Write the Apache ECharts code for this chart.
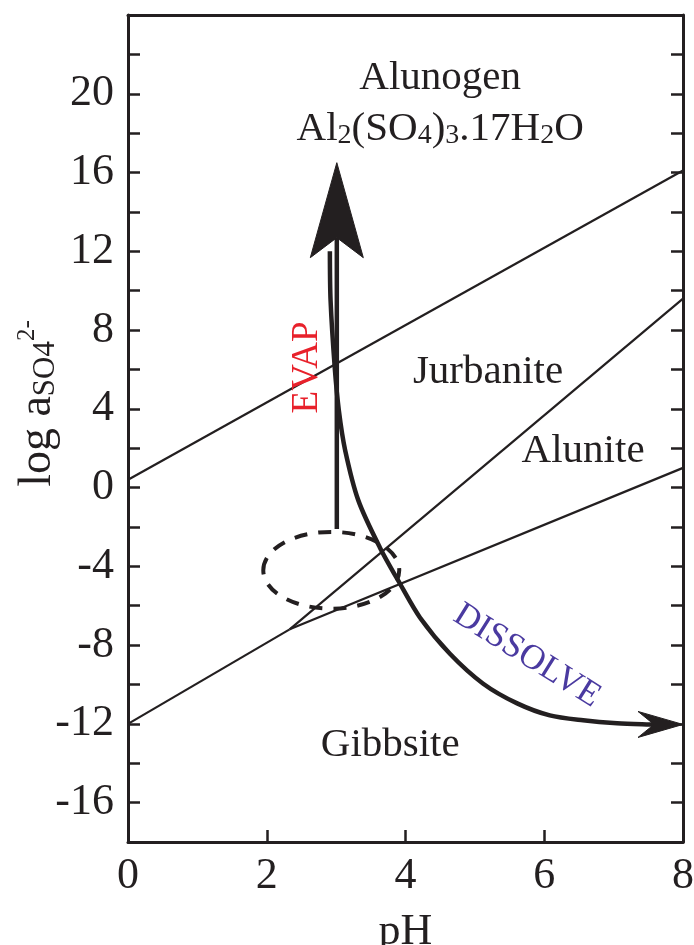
<!DOCTYPE html>
<html><head><meta charset="utf-8">
<script src="https://cdn.jsdelivr.net/npm/echarts@6/dist/echarts.min.js"></script>
<style>html,body{margin:0;padding:0;background:#fff}#c{width:694px;height:945px}</style>
</head><body><div id="c"></div>
<script>
const FONT = '"Liberation Serif", "Times New Roman", serif';
const INK = '#231f20';

// ---- data (pH, log a SO4 2-) ----
const xTickLabels = [0, 2, 4, 6, 8];
const yTickLabels = [-16, -12, -8, -4, 0, 4, 8, 12, 16, 20];

// stability-field boundaries
const alunogenJurbanite = [[0, 0.4], [8, 16.1]];
const jurbaniteGibbsite = [[0, -12], [2.33, -7.2]];
const jurbaniteAlunite = [[2.33, -7.2], [8, 9.6]];
const aluniteGibbsite = [[2.33, -7.2], [8, 1.0]];

// evaporation pathway (shaft to arrow tip)
const evapPath = [[3.01, -2.1], [3.01, 16.5]];
// dissolution pathway
const dissolvePath = [[2.91, 12.0], [2.92, 9.5], [2.98, 6.1], [3.04, 3.9], [3.13, 1.9], [3.32, -0.65],
  [3.63, -3.04], [3.92, -4.88], [4.21, -6.61], [4.64, -8.44], [5.12, -9.96], [5.61, -10.96],
  [6.08, -11.57], [6.56, -11.82], [7.05, -11.97], [7.52, -12.03], [8.0, -12.03]];

// dashed field of observed waters: centre and semi-axes
const fieldCentre = [2.93, -4.2];
const fieldRadii = [0.98, 1.95];

// region / process labels
const labelNames = ['Alunogen', 'formula', 'Jurbanite', 'Alunite', 'Gibbsite', 'EVAP', 'DISSOLVE'];
const labelPos = [[4.5, 20.8], [4.5, 18.2], [5.19, 5.87], [6.56, 1.85], [3.78, -13.1], [2.58, 6.1], [5.75, -8.55]];

// ---- chart ----
const lineSeries = (name, pts) => ({
  type: 'line', name, data: pts, symbol: 'none', silent: true, animation: false,
  lineStyle: { color: INK, width: 2.2 }, z: 2
});

function arrowSeries(name, path, width, head, smooth) {
  return {
    type: 'custom', name, silent: true, animation: false, z: 4,
    data: [path[0]],
    renderItem(params, api) {
      const pts = path.map(p => api.coord(p));
      const n = pts.length;
      const tip = pts[n - 1], prev = pts[n - 2];
      const ang = Math.atan2(tip[1] - prev[1], tip[0] - prev[0]);
      const ux = Math.cos(ang), uy = Math.sin(ang), px = -uy, py = ux;
      const base = [tip[0] - ux * head.len, tip[1] - uy * head.len];
      const W = head.width / 2;
      const left = [base[0] + px * W, base[1] + py * W];
      const right = [base[0] - px * W, base[1] - py * W];
      const nt = [tip[0] - ux * head.notch, tip[1] - uy * head.notch];
      const linePts = pts.slice(0, n - 1).concat([nt]);
      return {
        type: 'group', children: [
          { type: 'polyline', shape: { points: linePts, smooth: smooth }, style: { stroke: INK, lineWidth: width, fill: null } },
          { type: 'polygon', shape: { points: [tip, left, nt, right] }, style: { fill: INK, stroke: INK, lineWidth: 1 } }
        ]
      };
    }
  };
}

const richMain = (size) => ({
  m: { fontFamily: FONT, fontSize: size, color: INK },
  s: { fontFamily: FONT, fontSize: Math.round(size * 0.68), color: INK, verticalAlign: 'bottom' },
  p: { fontFamily: FONT, fontSize: Math.round(size * 0.55), color: INK, verticalAlign: 'top' }
});

const labelTexts = {
  Alunogen: '{m|Alunogen}',
  formula: '{m|Al}{s|2}{m|(SO}{s|4}{m|)}{s|3}{m|.17H}{s|2}{m|O}',
  Jurbanite: '{m|Jurbanite}',
  Alunite: '{m|Alunite}',
  Gibbsite: '{m|Gibbsite}',
  EVAP: 'EVAP',
  DISSOLVE: 'DISSOLVE'
};
const labelData = labelNames.map((nm, i) => {
  const item = { name: nm, value: labelPos[i] };
  if (nm === 'EVAP') item.label = { rotate: 90, color: '#e8212b', fontSize: 37 };
  if (nm === 'DISSOLVE') item.label = { rotate: -32, color: '#4a3aa0', fontSize: 35 };
  return item;
});

const option = {
  backgroundColor: '#fff',
  animation: false,
  grid: { left: 128, right: 11, top: 15, bottom: 103, containLabel: false, outerBoundsMode: 'none' },
  xAxis: [{
    type: 'value', min: 0, max: 8, interval: 2, position: 'bottom',
    axisLine: { show: true, onZero: false, lineStyle: { color: INK, width: 3 } },
    axisTick: { show: true, inside: true, length: 12, lineStyle: { color: INK, width: 2.5 } },
    axisLabel: { fontFamily: FONT, fontSize: 44, color: INK, margin: 12,
      formatter: v => xTickLabels.includes(v) ? String(v) : '' },
    splitLine: { show: false },
    name: 'pH', nameLocation: 'middle', nameGap: 68, nameMoveOverlap: false,
    nameTextStyle: { fontFamily: FONT, fontSize: 44, color: INK }
  }, {
    type: 'value', min: 0, max: 8, position: 'top',
    axisLine: { show: true, onZero: false, lineStyle: { color: INK, width: 3 } },
    axisTick: { show: false }, axisLabel: { show: false }, splitLine: { show: false }
  }],
  yAxis: [{
    type: 'value', min: -18, max: 24, interval: 2, position: 'left',
    axisLine: { show: true, onZero: false, lineStyle: { color: INK, width: 3 } },
    axisTick: { show: true, inside: true, length: 12, lineStyle: { color: INK, width: 2.5 } },
    axisLabel: { fontFamily: FONT, fontSize: 44, color: INK, margin: 14,
      formatter: v => yTickLabels.includes(v) ? String(v) : '' },
    splitLine: { show: false },
    name: '{m|log a}{s|SO4}{p|2-}', nameLocation: 'middle', nameGap: 67, nameRotate: 90,
    nameMoveOverlap: false,
    nameTextStyle: { rich: richMain(46), padding: [0, 0, 0, 50] }
  }, {
    type: 'value', min: -18, max: 24, interval: 2, position: 'right',
    axisLine: { show: true, onZero: false, lineStyle: { color: INK, width: 3 } },
    axisTick: { show: true, inside: true, length: 12, lineStyle: { color: INK, width: 2.5 } },
    axisLabel: { show: false }, splitLine: { show: false }
  }],
  series: [
    lineSeries('Alunogen/Jurbanite', alunogenJurbanite),
    lineSeries('Jurbanite/Gibbsite', jurbaniteGibbsite),
    lineSeries('Jurbanite/Alunite', jurbaniteAlunite),
    lineSeries('Alunite/Gibbsite', aluniteGibbsite),
    {
      type: 'custom', name: 'field', silent: true, animation: false, z: 3,
      data: [fieldCentre],
      renderItem(params, api) {
        const c = api.coord(fieldCentre);
        const s = api.size(fieldRadii);
        return { type: 'ellipse', shape: { cx: c[0], cy: c[1], rx: s[0], ry: s[1] },
          style: { stroke: INK, fill: null, lineWidth: 4, lineDash: [13, 11] } };
      }
    },
    arrowSeries('EVAP', evapPath, 4.5, { len: 95, width: 53, notch: 75 }, 0),
    arrowSeries('DISSOLVE', dissolvePath, 4.5, { len: 45, width: 26, notch: 29 }, 0.3),
    {
      type: 'scatter', name: 'labels', silent: true, animation: false, z: 6,
      symbolSize: 0, data: labelData, itemStyle: { opacity: 1 },
      label: {
        show: true, position: 'inside', fontFamily: FONT, color: INK, opacity: 1,
        formatter: p => labelTexts[p.name], rich: richMain(41)
      }
    }
  ]
};

const chart = echarts.init(document.getElementById('c'), null, { renderer: 'canvas' });
chart.setOption(option);
</script>
</body></html>
